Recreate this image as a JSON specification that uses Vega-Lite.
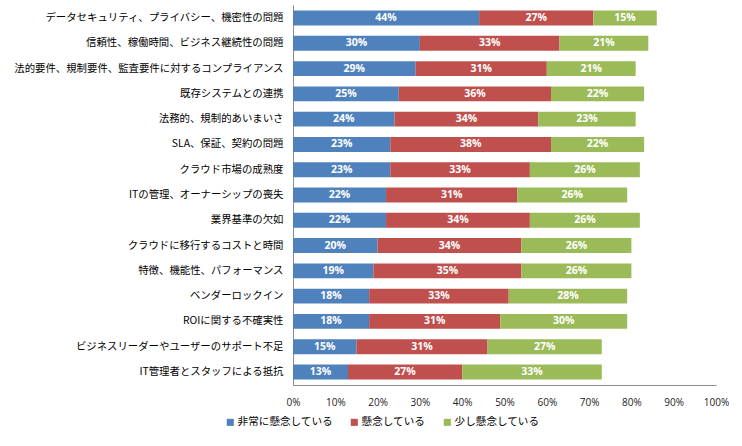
{
  "$schema": "https://vega.github.io/schema/vega-lite/v6.json",
  "autosize": {"type": "none"},
  "padding": {"left": 293, "top": 5, "right": 26, "bottom": 61},
  "width": 423,
  "height": 380,
  "config": {
    "background": "white",
    "view": {"stroke": null},
    "font": "Noto Sans CJK JP"
  },
  "data": {
    "values": [
      {"item": "データセキュリティ、プライバシー、機密性の問題", "series": "非常に懸念している", "order": 1, "pct": 0.44},
      {"item": "データセキュリティ、プライバシー、機密性の問題", "series": "懸念している", "order": 2, "pct": 0.27},
      {"item": "データセキュリティ、プライバシー、機密性の問題", "series": "少し懸念している", "order": 3, "pct": 0.15},
      {"item": "信頼性、稼働時間、ビジネス継続性の問題", "series": "非常に懸念している", "order": 1, "pct": 0.30},
      {"item": "信頼性、稼働時間、ビジネス継続性の問題", "series": "懸念している", "order": 2, "pct": 0.33},
      {"item": "信頼性、稼働時間、ビジネス継続性の問題", "series": "少し懸念している", "order": 3, "pct": 0.21},
      {"item": "法的要件、規制要件、監査要件に対するコンプライアンス", "series": "非常に懸念している", "order": 1, "pct": 0.29},
      {"item": "法的要件、規制要件、監査要件に対するコンプライアンス", "series": "懸念している", "order": 2, "pct": 0.31},
      {"item": "法的要件、規制要件、監査要件に対するコンプライアンス", "series": "少し懸念している", "order": 3, "pct": 0.21},
      {"item": "既存システムとの連携", "series": "非常に懸念している", "order": 1, "pct": 0.25},
      {"item": "既存システムとの連携", "series": "懸念している", "order": 2, "pct": 0.36},
      {"item": "既存システムとの連携", "series": "少し懸念している", "order": 3, "pct": 0.22},
      {"item": "法務的、規制的あいまいさ", "series": "非常に懸念している", "order": 1, "pct": 0.24},
      {"item": "法務的、規制的あいまいさ", "series": "懸念している", "order": 2, "pct": 0.34},
      {"item": "法務的、規制的あいまいさ", "series": "少し懸念している", "order": 3, "pct": 0.23},
      {"item": "SLA、保証、契約の問題", "series": "非常に懸念している", "order": 1, "pct": 0.23},
      {"item": "SLA、保証、契約の問題", "series": "懸念している", "order": 2, "pct": 0.38},
      {"item": "SLA、保証、契約の問題", "series": "少し懸念している", "order": 3, "pct": 0.22},
      {"item": "クラウド市場の成熟度", "series": "非常に懸念している", "order": 1, "pct": 0.23},
      {"item": "クラウド市場の成熟度", "series": "懸念している", "order": 2, "pct": 0.33},
      {"item": "クラウド市場の成熟度", "series": "少し懸念している", "order": 3, "pct": 0.26},
      {"item": "ITの管理、オーナーシップの喪失", "series": "非常に懸念している", "order": 1, "pct": 0.22},
      {"item": "ITの管理、オーナーシップの喪失", "series": "懸念している", "order": 2, "pct": 0.31},
      {"item": "ITの管理、オーナーシップの喪失", "series": "少し懸念している", "order": 3, "pct": 0.26},
      {"item": "業界基準の欠如", "series": "非常に懸念している", "order": 1, "pct": 0.22},
      {"item": "業界基準の欠如", "series": "懸念している", "order": 2, "pct": 0.34},
      {"item": "業界基準の欠如", "series": "少し懸念している", "order": 3, "pct": 0.26},
      {"item": "クラウドに移行するコストと時間", "series": "非常に懸念している", "order": 1, "pct": 0.20},
      {"item": "クラウドに移行するコストと時間", "series": "懸念している", "order": 2, "pct": 0.34},
      {"item": "クラウドに移行するコストと時間", "series": "少し懸念している", "order": 3, "pct": 0.26},
      {"item": "特徴、機能性、パフォーマンス", "series": "非常に懸念している", "order": 1, "pct": 0.19},
      {"item": "特徴、機能性、パフォーマンス", "series": "懸念している", "order": 2, "pct": 0.35},
      {"item": "特徴、機能性、パフォーマンス", "series": "少し懸念している", "order": 3, "pct": 0.26},
      {"item": "ベンダーロックイン", "series": "非常に懸念している", "order": 1, "pct": 0.18},
      {"item": "ベンダーロックイン", "series": "懸念している", "order": 2, "pct": 0.33},
      {"item": "ベンダーロックイン", "series": "少し懸念している", "order": 3, "pct": 0.28},
      {"item": "ROIに関する不確実性", "series": "非常に懸念している", "order": 1, "pct": 0.18},
      {"item": "ROIに関する不確実性", "series": "懸念している", "order": 2, "pct": 0.31},
      {"item": "ROIに関する不確実性", "series": "少し懸念している", "order": 3, "pct": 0.30},
      {"item": "ビジネスリーダーやユーザーのサポート不足", "series": "非常に懸念している", "order": 1, "pct": 0.15},
      {"item": "ビジネスリーダーやユーザーのサポート不足", "series": "懸念している", "order": 2, "pct": 0.31},
      {"item": "ビジネスリーダーやユーザーのサポート不足", "series": "少し懸念している", "order": 3, "pct": 0.27},
      {"item": "IT管理者とスタッフによる抵抗", "series": "非常に懸念している", "order": 1, "pct": 0.13},
      {"item": "IT管理者とスタッフによる抵抗", "series": "懸念している", "order": 2, "pct": 0.27},
      {"item": "IT管理者とスタッフによる抵抗", "series": "少し懸念している", "order": 3, "pct": 0.33}
    ]
  },
  "encoding": {
    "y": {
      "field": "item",
      "type": "nominal",
      "sort": [
        "データセキュリティ、プライバシー、機密性の問題",
        "信頼性、稼働時間、ビジネス継続性の問題",
        "法的要件、規制要件、監査要件に対するコンプライアンス",
        "既存システムとの連携",
        "法務的、規制的あいまいさ",
        "SLA、保証、契約の問題",
        "クラウド市場の成熟度",
        "ITの管理、オーナーシップの喪失",
        "業界基準の欠如",
        "クラウドに移行するコストと時間",
        "特徴、機能性、パフォーマンス",
        "ベンダーロックイン",
        "ROIに関する不確実性",
        "ビジネスリーダーやユーザーのサポート不足",
        "IT管理者とスタッフによる抵抗"
      ],
      "scale": {"paddingInner": 0.41, "paddingOuter": 0.22},
      "axis": {
        "title": null,
        "ticks": false,
        "labelPadding": 10,
        "labelFontSize": 10.4,
        "labelColor": "#000000",
        "labelLimit": 290,
        "domainColor": "#8c8c8c"
      }
    },
    "order": {"field": "order", "type": "quantitative"}
  },
  "layer": [
    {
      "mark": {"type": "bar"},
      "encoding": {
        "x": {
          "field": "pct",
          "type": "quantitative",
          "stack": "zero",
          "scale": {"domain": [0, 1]},
          "axis": {
            "title": null,
            "format": ".0%",
            "values": [0, 0.1, 0.2, 0.3, 0.4, 0.5, 0.6, 0.7, 0.8, 0.9, 1],
            "grid": false,
            "ticks": false,
            "labelFlush": false,
            "labelPadding": 12,
            "labelFontSize": 10,
            "labelFont": "Open Sans",
            "labelColor": "#222222",
            "domainColor": "#8c8c8c"
          }
        },
        "color": {
          "field": "series",
          "type": "nominal",
          "scale": {
            "domain": ["非常に懸念している", "懸念している", "少し懸念している"],
            "range": ["#4F81BD", "#C0504D", "#9BBB59"]
          },
          "legend": {
            "title": null,
            "orient": "none",
            "direction": "horizontal",
            "legendX": -68,
            "legendY": 412,
            "symbolType": "square",
            "symbolSize": 50,
            "symbolStrokeWidth": 0,
            "labelOffset": 2,
            "labelFontSize": 10.6,
            "labelColor": "#000000",
            "columnPadding": 16
          }
        }
      }
    },
    {
      "mark": {"type": "text", "color": "white", "fontWeight": "bold", "fontSize": 10.5, "font": "Open Sans"},
      "encoding": {
        "x": {"field": "pct", "type": "quantitative", "stack": "zero", "bandPosition": 0.5},
        "detail": {"field": "series", "type": "nominal"},
        "text": {"field": "pct", "type": "quantitative", "format": ".0%"}
      }
    }
  ]
}
